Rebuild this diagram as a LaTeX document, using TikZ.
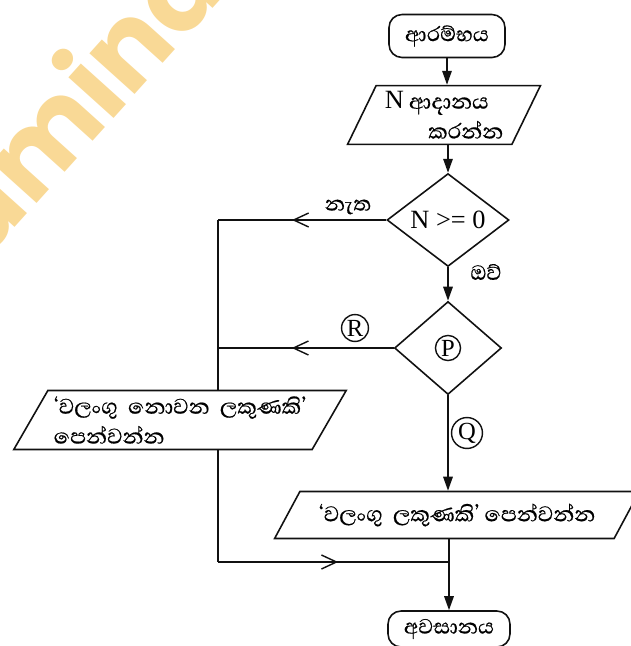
\documentclass[tikz,border=0pt]{standalone}
\usepackage{fontspec}
\setmainfont{Liberation Serif}
\newfontfamily\sinhfont[Script=Sinhala,FakeBold=0.5]{Abhaya Libre}
\newfontfamily\wmfont{Poppins}
\usetikzlibrary{arrows.meta,shapes.geometric,decorations.markings,calc}
\definecolor{tinte}{HTML}{111111}
\definecolor{wasser}{HTML}{F9D996}
\tikzset{
  linie/.style={tinte,line width=0.9pt},
  fluss/.style={linie,-{Triangle[length=2.8mm,width=1.9mm]}},
  mitte/.style={postaction={decorate},decoration={markings,
    mark=at position #1 with {\arrow{Straight Barb[length=3mm,width=2.8mm,line width=0.8pt]}}}},
  endpunkt/.style={draw=tinte,line width=0.9pt,rounded corners=2.6mm,
    minimum width=2.32cm,minimum height=0.86cm,font=\sinhfont\fontsize{15}{17}\selectfont},
  raute/.style={diamond,draw=tinte,line width=0.9pt,inner sep=0pt},
  ausgabe/.style={trapezium,trapezium stretches=true,draw=tinte,line width=0.9pt,
    font=\sinhfont\fontsize{15.5}{17}\selectfont},
  marke/.style={circle,draw=tinte,line width=0.8pt,inner sep=0.8pt,minimum size=0.44cm,
    font=\fontsize{14}{14}\selectfont},
  wort/.style={font=\sinhfont\fontsize{15}{17}\selectfont},
}
\begin{document}
\begin{tikzpicture}[x=0.02cm,y=-0.02cm]
  \useasboundingbox (0,0) rectangle (630,646);
  \node[wasser,rotate=48,font=\wmfont\bfseries\fontsize{62}{62}\selectfont] (wm) at (74,98) {amina};
  \node[endpunkt] (start) at (447,36) {ආරම්භය};
  \node[ausgabe,trapezium left angle=65,trapezium right angle=115,
    minimum width=3.86cm,minimum height=1.1cm,align=left] (input) at (444,115)
    {{\rmfamily\fontsize{15}{15}\selectfont N}\ ආදානය\\\hspace{1.6em}කරන්න};
  \node[raute,minimum width=2.44cm,minimum height=1.84cm,font=\fontsize{15}{15}\selectfont] (chk) at (448,220) {N >= 0};
  \node[raute,minimum width=2.14cm,minimum height=1.86cm] (pchk) at (448,348) {};
  \node[marke] (p) at (pchk) {P};
  \node[ausgabe,trapezium left angle=60,trapezium right angle=120,
    minimum width=6.6cm,minimum height=1.12cm,align=left] (bad) at (180,420)
    {‘වලංගු\ \ නොවන\ \ ලකුණකි’\\පෙන්වන්න};
  \node[ausgabe,trapezium left angle=56,trapezium right angle=124,
    minimum width=7.3cm,minimum height=0.94cm] (good) at (457,515)
    {‘වලංගු\ \ ලකුණකි’ පෙන්වන්න};
  \node[endpunkt,minimum width=2.44cm,minimum height=0.72cm] (stop) at (449,629) {අවසානය};
  \coordinate (knick) at (218,562);
  \coordinate (treff) at (449,562);
  % Hauptlinie
  \draw[fluss] (start) -- (start |- input.north);
  \draw[fluss] (input.south -| chk) -- (chk.north);
  \draw[fluss] (chk) -- (pchk);
  \draw[fluss] (pchk) -- (pchk |- good.north);
  \draw[linie] (good.south -| treff) -- (treff);
  \draw[fluss] (treff) -- (stop.north -| treff);
  % linker Zweig
  \draw[linie,mitte=0.56] (chk.west) -- (chk.west -| knick);
  \draw[linie,mitte=0.58] (pchk.west) -- (pchk.west -| knick);
  \draw[linie] (chk.west -| knick) -- (bad.north -| knick);
  \draw[linie] (bad.south -| knick) -- (knick);
  \draw[linie,mitte=0.52] (knick) -- (treff);
  % Beschriftungen
  \node[wort] (nein) at (348,207) {නැත};
  \node[wort] (ja) at (486,272) {ඔව්};
  \node[marke] (r) at (355,328) {R};
  \node[marke] (q) at (467,433) {Q};
\end{tikzpicture}
\end{document}
